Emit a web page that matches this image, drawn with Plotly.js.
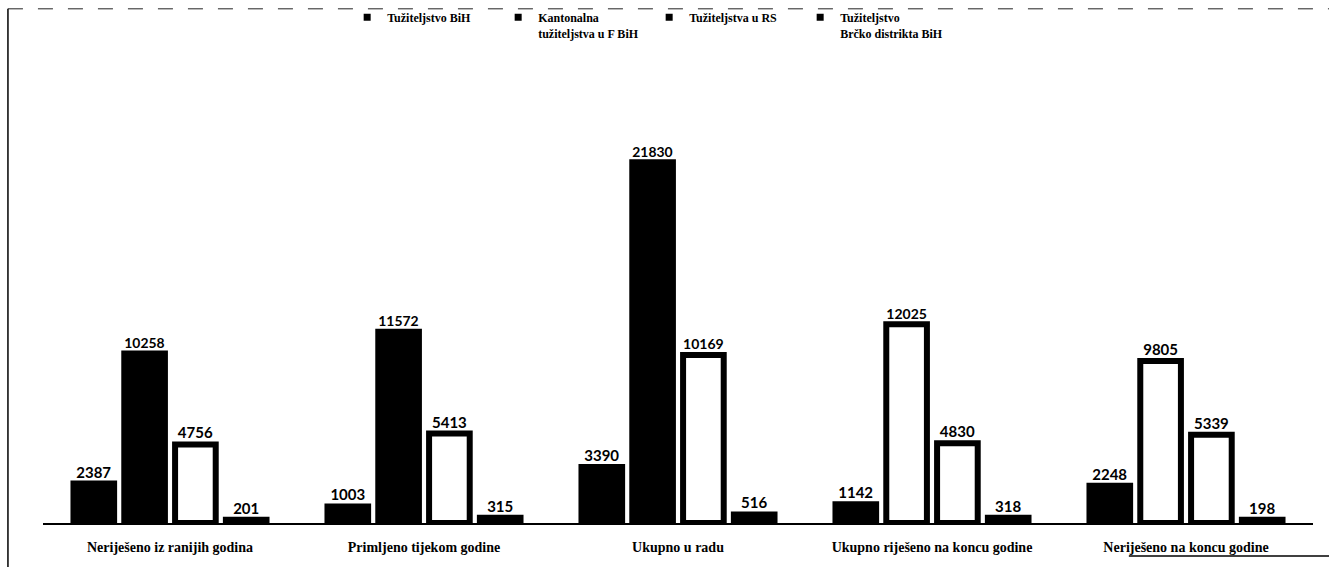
<!DOCTYPE html>
<html>
<head>
<meta charset="utf-8">
<script src="https://cdn.plot.ly/plotly-3.0.1.min.js"></script>
<style>
html,body{margin:0;padding:0;background:#fff;}
#chart{width:1329px;height:567px;}
</style>
</head>
<body>
<div id="chart"></div>
<script>
// ---- data ----
const categories = [
  "Neriješeno iz ranijih godina",
  "Primljeno tijekom godine",
  "Ukupno u radu",
  "Ukupno riješeno na koncu godine",
  "Neriješeno na koncu godine"
];
const seriesNames = [
  "Tužiteljstvo BiH",
  "Kantonalna<br>tužiteljstva u F BiH",
  "Tužiteljstva u RS",
  "Tužiteljstvo<br>Brčko distrikta BiH"
];
const tuzBiH     = [2387, 1003, 3390, 1142, 2248];
const kantonalna = [10258, 11572, 21830, 12025, 9805];
const tuzRS      = [4756, 5413, 10169, 4830, 5339];
const brcko      = [201, 315, 516, 318, 198];

// ---- styles ----
const fillStyles = [
  ["#000", "#000", "#000", "#000", "#000"],
  ["#000", "#000", "#000", "#fff", "#fff"],
  ["#fff", "#fff", "#fff", "#fff", "#fff"],
  ["#000", "#000", "#000", "#000", "#000"]
];
const valueSets = [tuzBiH, kantonalna, tuzRS, brcko];

const barTraces = valueSets.map((vals, i) => ({
  type: "bar",
  name: seriesNames[i],
  x: categories,
  y: vals,
  text: vals.map(String),
  textposition: "outside",
  cliponaxis: false,
  textfont: {family: "Lato, 'DejaVu Sans', sans-serif", size: 15, color: "#000", weight: "bold"},
  marker: {
    color: fillStyles[i],
    line: {color: "#000", width: 6}
  },
  showlegend: false,
  hoverinfo: "skip"
}));

// legend entries: small black squares, as in the original
const legendTraces = seriesNames.map(name => ({
  type: "scatter",
  mode: "markers",
  name: name,
  x: [null],
  y: [null],
  marker: {symbol: "square", size: 7, color: "#000"},
  showlegend: true,
  hoverinfo: "skip"
}));

const layout = {
  width: 1329,
  height: 567,
  paper_bgcolor: "#fff",
  plot_bgcolor: "#fff",
  margin: {l: 43, r: 16, t: 110, b: 44, pad: 0, autoexpand: false},
  barmode: "group",
  bargap: 0.2,
  bargroupgap: 0.2,
  showlegend: true,
  legend: {
    orientation: "h",
    x: 0.2395,
    xanchor: "left",
    y: 1.259,
    yanchor: "top",
    entrywidth: 106,
    entrywidthmode: "pixels",
    traceorder: "normal",
    valign: "top",
    itemclick: false,
    font: {family: "'Liberation Serif', serif", size: 12, color: "#000", weight: "bold"},
    bgcolor: "rgba(0,0,0,0)"
  },
  xaxis: {
    type: "category",
    showline: true,
    linecolor: "#000",
    linewidth: 2,
    ticks: "",
    ticklabelstandoff: 10,
    showgrid: false,
    zeroline: false,
    tickfont: {family: "'Liberation Serif', serif", size: 14, color: "#000", weight: "bold"}
  },
  yaxis: {
    range: [0, 25000],
    visible: false,
    showgrid: false,
    zeroline: false,
    fixedrange: true
  },
  shapes: [
    {type: "line", xref: "paper", yref: "paper", x0: -0.0276, x1: -0.0276, y0: 1.245, y1: -0.11, line: {color: "#000", width: 1.5}},
    {type: "line", xref: "paper", yref: "paper", x0: -0.0276, x1: 1.0126, y0: 1.245, y1: 1.245, line: {color: "#222", width: 1, dash: "longdash"}},
    {type: "line", xref: "paper", yref: "paper", x0: 0.855, x1: 1.0126, y0: -0.08, y1: -0.08, line: {color: "#000", width: 1.5}}
  ],
  font: {family: "'Liberation Serif', serif", color: "#000"}
};

Plotly.newPlot("chart", barTraces.concat(legendTraces), layout, {displayModeBar: false, staticPlot: true});
</script>
</body>
</html>
